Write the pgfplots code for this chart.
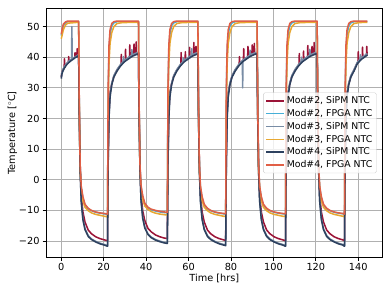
\documentclass[border=0pt]{standalone}
\usepackage{fontspec}
\setmainfont{DejaVu Sans}
\usepackage{pgfplots}
\usepackage{pgfplotstable}
\pgfplotsset{compat=1.18}
\definecolor{cAs}{RGB}{155,20,55}
\definecolor{cAf}{RGB}{70,175,215}
\definecolor{cBs}{RGB}{120,140,165}
\definecolor{cBf}{RGB}{232,168,50}
\definecolor{cCs}{RGB}{45,65,95}
\definecolor{cCf}{RGB}{225,95,70}
\definecolor{gridc}{RGB}{176,176,176}
\definecolor{legc}{RGB}{204,204,204}

\pgfplotstableread{
t f2 f3 f4
0 47.0 46.0 47.5
0.5 49.0 47.5 49.5
1 50.3 49.0 50.8
2 51.3 50.5 51.5
3 51.6 51.1 51.8
8.2 51.6 51.4 51.8
8.5 24 22 25
8.9 4 3 5
9.4 -2.5 -3 -2
10.2 -6 -6.8 -5.5
11.2 -8.3 -9 -8
12.7 -9.5 -10.1 -9.3
14.2 -10.1 -10.8 -10
16.2 -10.6 -11.3 -10.5
18.2 -10.9 -11.6 -10.8
20.2 -11.1 -11.9 -11.0
21.8 -11.3 -12.1 -11.2
22.1 28 24 30
22.5 42 38 44
23.0 47.5 44.5 49
23.8 50.3 48 51
24.8 51.2 50 51.6
26.3 51.6 51 51.8
28.8 51.6 51.3 51.8
36.4 51.6 51.4 51.8
36.7 24 22 25
37.1 4 3 5
37.6 -2.3 -2.8 -1.8
38.4 -5.7 -6.5 -5.2
39.4 -8 -8.6 -7.7
40.9 -9.2 -9.7 -9
42.4 -9.8 -10.4 -9.6
44.4 -10.2 -10.9 -10
46.4 -10.5 -11.2 -10.3
48.4 -10.7 -11.4 -10.5
50.0 -10.8 -11.5 -10.6
50.3 28 24 30
50.7 42 38 44
51.2 47.5 44.5 49
52.0 50.3 48 51
53.0 51.2 50 51.6
54.5 51.6 51 51.8
57.0 51.6 51.3 51.8
64.4 51.6 51.4 51.8
64.7 24 22 25
65.1 4 3 5
65.6 -2.5 -3 -2
66.4 -6 -6.8 -5.5
67.4 -8.3 -9 -8
68.9 -9.5 -10.1 -9.3
70.4 -10.1 -10.8 -10
72.4 -10.6 -11.3 -10.5
74.4 -10.9 -11.6 -10.8
76.4 -11.1 -11.9 -11.0
77.5 -11.2 -12.0 -11.1
77.8 28 24 30
78.2 42 38 44
78.7 47.5 44.5 49
79.5 50.3 48 51
80.5 51.2 50 51.6
82.0 51.6 51 51.8
84.5 51.6 51.3 51.8
92.3 51.6 51.4 51.8
92.6 24 22 25
93.0 4 3 5
93.5 -2.5 -3 -2
94.3 -6 -6.8 -5.5
95.3 -8.3 -9 -8
96.8 -9.5 -10.1 -9.3
98.3 -10.1 -10.8 -10
100.3 -10.6 -11.3 -10.5
102.3 -10.9 -11.6 -10.8
104.3 -11.1 -11.9 -11.0
105.7 -11.2 -12.0 -11.1
106.0 28 24 30
106.4 42 38 44
106.9 47.5 44.5 49
107.7 50.3 48 51
108.7 51.2 50 51.6
110.2 51.6 51 51.8
112.7 51.6 51.3 51.8
120.6 51.6 51.4 51.8
120.9 24 22 25
121.3 4 3 5
121.8 -2.5 -3 -2
122.6 -6 -6.8 -5.5
123.6 -8.3 -9 -8
125.1 -9.5 -10.1 -9.3
126.6 -10.1 -10.8 -10
128.6 -10.6 -11.3 -10.5
130.6 -10.9 -11.6 -10.8
132.6 -11.1 -11.9 -11.0
133.5 -11.3 -12.1 -11.2
133.8 28 24 30
134.2 42 38 44
134.7 47.5 44.5 49
135.5 50.3 48 51
136.5 51.2 50 51.6
138.0 51.6 51 51.8
140.5 51.6 51.3 51.8
144.3 51.6 51.4 51.8
}\fpga

\pgfplotstableread{
t s2 s3 s4
0 33.5 33.5 33
0.3 35 35 34.5
0.8 36 36 35.5
1.35 36.3 36.8 36.3
1.5 39.5 37 36.5
1.65 36.8 37.1 36.6
2.5 37.8 38 37.5
3.35 38.3 38.6 38.1
3.5 40.2 38.7 38.2
3.65 38.5 38.8 38.3
4.5 39.1 39.2 38.8
4.85 39.3 39.4 39.0
5.0 39.3 50 39.0
5.15 39.4 39.5 39.1
5.5 39.6 39.6 39.3
6.35 40.0 40.0 39.7
6.5 41.5 40.1 39.8
6.65 40.1 40.2 39.9
7.0 40.3 40.3 40.0
7.35 40.4 40.4 40.1
7.5 42.8 40.5 40.2
7.65 40.5 40.6 40.3
8.2 40.8 40.8 40.5
8.5 22 20.5 20
8.9 5 3.5 3
9.4 -5 -6.7 -7
10.2 -10.5 -12.7 -13
11.2 -13.8 -16.0 -16.3
12.7 -16.4 -18.2 -18.5
14.2 -17.6 -19.3 -19.5
16.2 -18.6 -20.1 -20.3
18.2 -19.2 -20.7 -20.9
20.2 -19.6 -21.1 -21.3
21.8 -19.9 -21.5 -21.7
22.1 8 6 5
22.5 22 21 20
23.0 28.5 27.8 27
23.8 31.3 31.5 31
24.8 33.8 34 33.5
26.3 35.8 36 35.5
27.8 37.3 37.5 37
28.15 37.6 37.8 37.3
28.3 40.9 37.9 37.4
28.45 37.8 38.0 37.5
28.8 38.1 38.3 37.8
29.15 38.35 38.55 38.05
29.3 38.45 40.2 38.15
29.45 38.55 38.75 38.25
29.8 38.8 39 38.5
30.15 39.0 39.2 38.7
30.3 42.6 39.25 38.75
30.45 39.15 39.35 38.85
30.8 39.3 39.5 39
31.8 39.8 40 39.5
32.15 39.95 40.2 39.7
32.3 44 40.25 39.75
32.45 40.15 40.3 39.8
32.8 40.3 40.5 40
33.15 40.45 40.65 40.15
33.3 40.5 42.5 40.2
33.45 40.55 40.75 40.25
33.8 40.7 40.9 40.4
34.15 40.8 41.0 40.5
34.3 44.3 41.05 40.55
34.45 40.9 41.1 40.6
34.8 41 41.2 40.7
35.15 41.1 41.3 40.8
35.3 45 41.35 40.85
35.45 41.2 41.4 40.9
35.8 41.3 41.5 41
36.4 41.4 41.6 41.1
36.7 22 20.5 20
37.1 5 3.5 3
37.6 -4.8 -6.5 -6.8
38.4 -10.2 -12.3 -12.6
39.4 -13.4 -15.5 -15.8
40.9 -15.9 -17.7 -17.9
42.4 -17.0 -18.7 -18.9
44.4 -18.0 -19.5 -19.7
46.4 -18.6 -20.0 -20.2
48.4 -19.0 -20.4 -20.6
50.0 -19.2 -20.6 -20.8
50.3 8 6 5
50.7 22 21 20
51.2 28.5 27.8 27
52.0 31.3 31.5 31
53.0 33.8 34 33.5
54.5 35.8 36 35.5
56.0 37.3 37.5 37
56.35 37.6 37.8 37.3
56.5 41.5 37.9 37.4
56.65 37.8 38.0 37.5
57.0 38.1 38.3 37.8
57.35 38.35 38.55 38.05
57.5 38.45 39.8 38.15
57.65 38.55 38.75 38.25
58.0 38.8 39 38.5
58.35 39.0 39.2 38.7
58.5 41.8 39.25 38.75
58.65 39.15 39.35 38.85
59.0 39.3 39.5 39
60.0 39.8 40 39.5
60.35 39.95 40.2 39.7
60.5 43.2 40.25 39.75
60.65 40.15 40.3 39.8
61.0 40.3 40.5 40
61.35 40.45 40.65 40.15
61.5 40.5 42.8 40.2
61.65 40.55 40.75 40.25
62.0 40.7 40.9 40.4
62.35 40.8 41.0 40.5
62.5 44.8 41.05 40.55
62.65 40.9 41.1 40.6
63.0 41 41.2 40.7
63.35 41.1 41.3 40.8
63.5 43.5 41.35 40.85
63.65 41.2 41.4 40.9
64.0 41.3 41.5 41
64.4 41.4 41.6 41.1
64.7 22 20.5 20
65.1 5 3.5 3
65.6 -5 -6.7 -7
66.4 -10.5 -12.7 -13
67.4 -13.8 -16.0 -16.3
68.9 -16.4 -18.2 -18.5
70.4 -17.6 -19.3 -19.5
72.4 -18.6 -20.1 -20.3
74.4 -19.2 -20.7 -20.9
76.4 -19.6 -21.1 -21.3
77.5 -19.8 -21.3 -21.5
77.8 8 6 5
78.2 22 21 20
78.7 28.5 27.8 27
79.5 31.3 31.5 31
80.5 33.8 34 33.5
82.0 35.8 36 35.5
83.5 37.3 37.5 37
83.85 37.6 37.8 37.3
84.0 40.2 37.9 37.4
84.15 37.8 38.0 37.5
84.5 38.1 38.3 37.8
85.0 38.45 38.65 38.15
85.35 38.7 38.9 38.4
85.5 38.8 30 38.5
85.65 38.9 39.1 38.6
85.85 39.0 39.2 38.7
86.0 42.8 39.25 38.75
86.15 39.15 39.35 38.85
86.5 39.3 39.5 39
87.5 39.8 40 39.5
87.85 39.95 40.2 39.7
88.0 43.5 40.25 39.75
88.15 40.15 40.3 39.8
88.5 40.3 40.5 40
88.85 40.45 40.65 40.15
89.0 40.5 42.3 40.2
89.15 40.55 40.75 40.25
89.5 40.7 40.9 40.4
89.85 40.8 41.0 40.5
90.0 44 41.05 40.55
90.15 40.9 41.1 40.6
90.5 41 41.2 40.7
90.85 41.1 41.3 40.8
91.0 44.5 41.35 40.85
91.15 41.2 41.4 40.9
91.5 41.3 41.5 41
92.3 41.4 41.6 41.1
92.6 22 20.5 20
93.0 5 3.5 3
93.5 -5 -6.7 -7
94.3 -10.5 -12.7 -13
95.3 -13.8 -16.0 -16.3
96.8 -16.4 -18.2 -18.5
98.3 -17.6 -19.3 -19.5
100.3 -18.6 -20.1 -20.3
102.3 -19.2 -20.7 -20.9
104.3 -19.6 -21.1 -21.3
105.7 -19.9 -21.5 -21.7
106.0 8 6 5
106.4 22 21 20
106.9 28.5 27.8 27
107.7 31.3 31.5 31
108.7 33.8 34 33.5
110.2 35.8 36 35.5
111.7 37.3 37.5 37
112.05 37.6 37.8 37.3
112.2 41.2 37.9 37.4
112.35 37.8 38.0 37.5
112.7 38.1 38.3 37.8
113.05 38.35 38.55 38.05
113.2 38.45 40 38.15
113.35 38.55 38.75 38.25
113.7 38.8 39 38.5
114.05 39.0 39.2 38.7
114.2 42 39.25 38.75
114.35 39.15 39.35 38.85
114.7 39.3 39.5 39
115.7 39.8 40 39.5
116.05 39.95 40.2 39.7
116.2 43.8 40.25 39.75
116.35 40.15 40.3 39.8
116.7 40.3 40.5 40
117.05 40.45 40.65 40.15
117.2 40.5 42.6 40.2
117.35 40.55 40.75 40.25
117.7 40.7 40.9 40.4
118.05 40.8 41.0 40.5
118.2 43.5 41.05 40.55
118.35 40.9 41.1 40.6
118.7 41 41.2 40.7
119.05 41.1 41.3 40.8
119.2 44.8 41.35 40.85
119.35 41.2 41.4 40.9
119.7 41.3 41.5 41
120.6 41.4 41.6 41.1
120.9 22 20.5 20
121.3 5 3.5 3
121.8 -5 -6.7 -7
122.6 -10.5 -12.7 -13
123.6 -13.8 -16.0 -16.3
125.1 -16.4 -18.2 -18.5
126.6 -17.6 -19.3 -19.5
128.6 -18.6 -20.1 -20.3
130.6 -19.2 -20.7 -20.9
132.6 -19.6 -21.1 -21.3
133.5 -19.9 -21.5 -21.7
133.8 8 6 5
134.2 22 21 20
134.7 28.5 27.8 27
135.5 31.3 31.5 31
136.5 33.8 34 33.5
138.0 35.8 36 35.5
139.5 38.1 38.3 37.8
139.85 38.4 38.6 38.1
140.0 41.8 38.7 38.2
140.15 38.6 38.8 38.3
140.5 38.9 39.1 38.6
140.85 39.15 39.35 38.85
141.0 39.25 40.8 38.95
141.15 39.35 39.55 39.05
141.5 39.6 39.8 39.3
141.85 39.8 40.0 39.5
142.0 43.3 40.05 39.55
142.15 39.95 40.15 39.65
142.5 40.1 40.3 39.8
143.5 40.6 40.8 40.3
143.85 40.75 41.0 40.5
144.0 43.5 41.05 40.55
144.15 40.85 41.1 40.6
144.3 40.9 41.2 40.7
}\sipm

\begin{document}
\begin{tikzpicture}
\path[use as bounding box] (0,0) rectangle (460.8pt,345.3pt);
\begin{axis}[
  at={(54.2pt,42.1pt)}, anchor=south west,
  width=396.8pt, height=293.2pt, scale only axis,
  xmin=-7.2, xmax=151.5, ymin=-25.3, ymax=55.9,
  xtick={0,20,40,60,80,100,120,140},
  xticklabels={0,20,40,60,80,100,120,140},
  ytick={-20,-10,0,10,20,30,40,50},
  yticklabels={−20,−10,0,10,20,30,40,50},
  tick pos=left, tick align=outside,
  major tick length=4.1pt,
  tick style={black, line width=0.9pt},
  axis line style={black, line width=0.9pt},
  xmajorgrids, ymajorgrids,
  grid style={gridc, line width=0.9pt},
  tick label style={font=\fontsize{11.5}{13.8}\selectfont},
  xlabel={Time [hrs]}, ylabel={Temperature [$^\circ$C]},
  label style={font=\fontsize{11.5}{13.8}\selectfont},
  xlabel style={at={(axis description cs:0.5,-0.086)}, anchor=center},
  ylabel style={at={(axis description cs:-0.100,0.5)}, anchor=center},
  legend style={at={(0.982,0.5)}, anchor=east, draw=legc, rounded corners=2pt,
    fill=white, fill opacity=0.8, text opacity=1, draw opacity=1,
    font=\fontsize{11}{13.2}\selectfont, row sep=1.2pt, inner sep=2.8pt},
  legend cell align=left,
  legend image code/.code={\draw[#1, line width=1.8pt] (0pt,0pt) -- (21pt,0pt);},
  every axis plot/.append style={line width=1.8pt, no marks, line join=round},
]
\addplot[color=cAs] table[x=t,y=s2] {\sipm};
\addlegendentry{Mod\#2, SiPM NTC}
\addplot[color=cAf] table[x=t,y=f2] {\fpga};
\addlegendentry{Mod\#2, FPGA NTC}
\addplot[color=cBs] table[x=t,y=s3] {\sipm};
\addlegendentry{Mod\#3, SiPM NTC}
\addplot[color=cBf] table[x=t,y=f3] {\fpga};
\addlegendentry{Mod\#3, FPGA NTC}
\addplot[color=cCs] table[x=t,y=s4] {\sipm};
\addlegendentry{Mod\#4, SiPM NTC}
\addplot[color=cCf] table[x=t,y=f4] {\fpga};
\addlegendentry{Mod\#4, FPGA NTC}
\end{axis}
\end{tikzpicture}
\end{document}
